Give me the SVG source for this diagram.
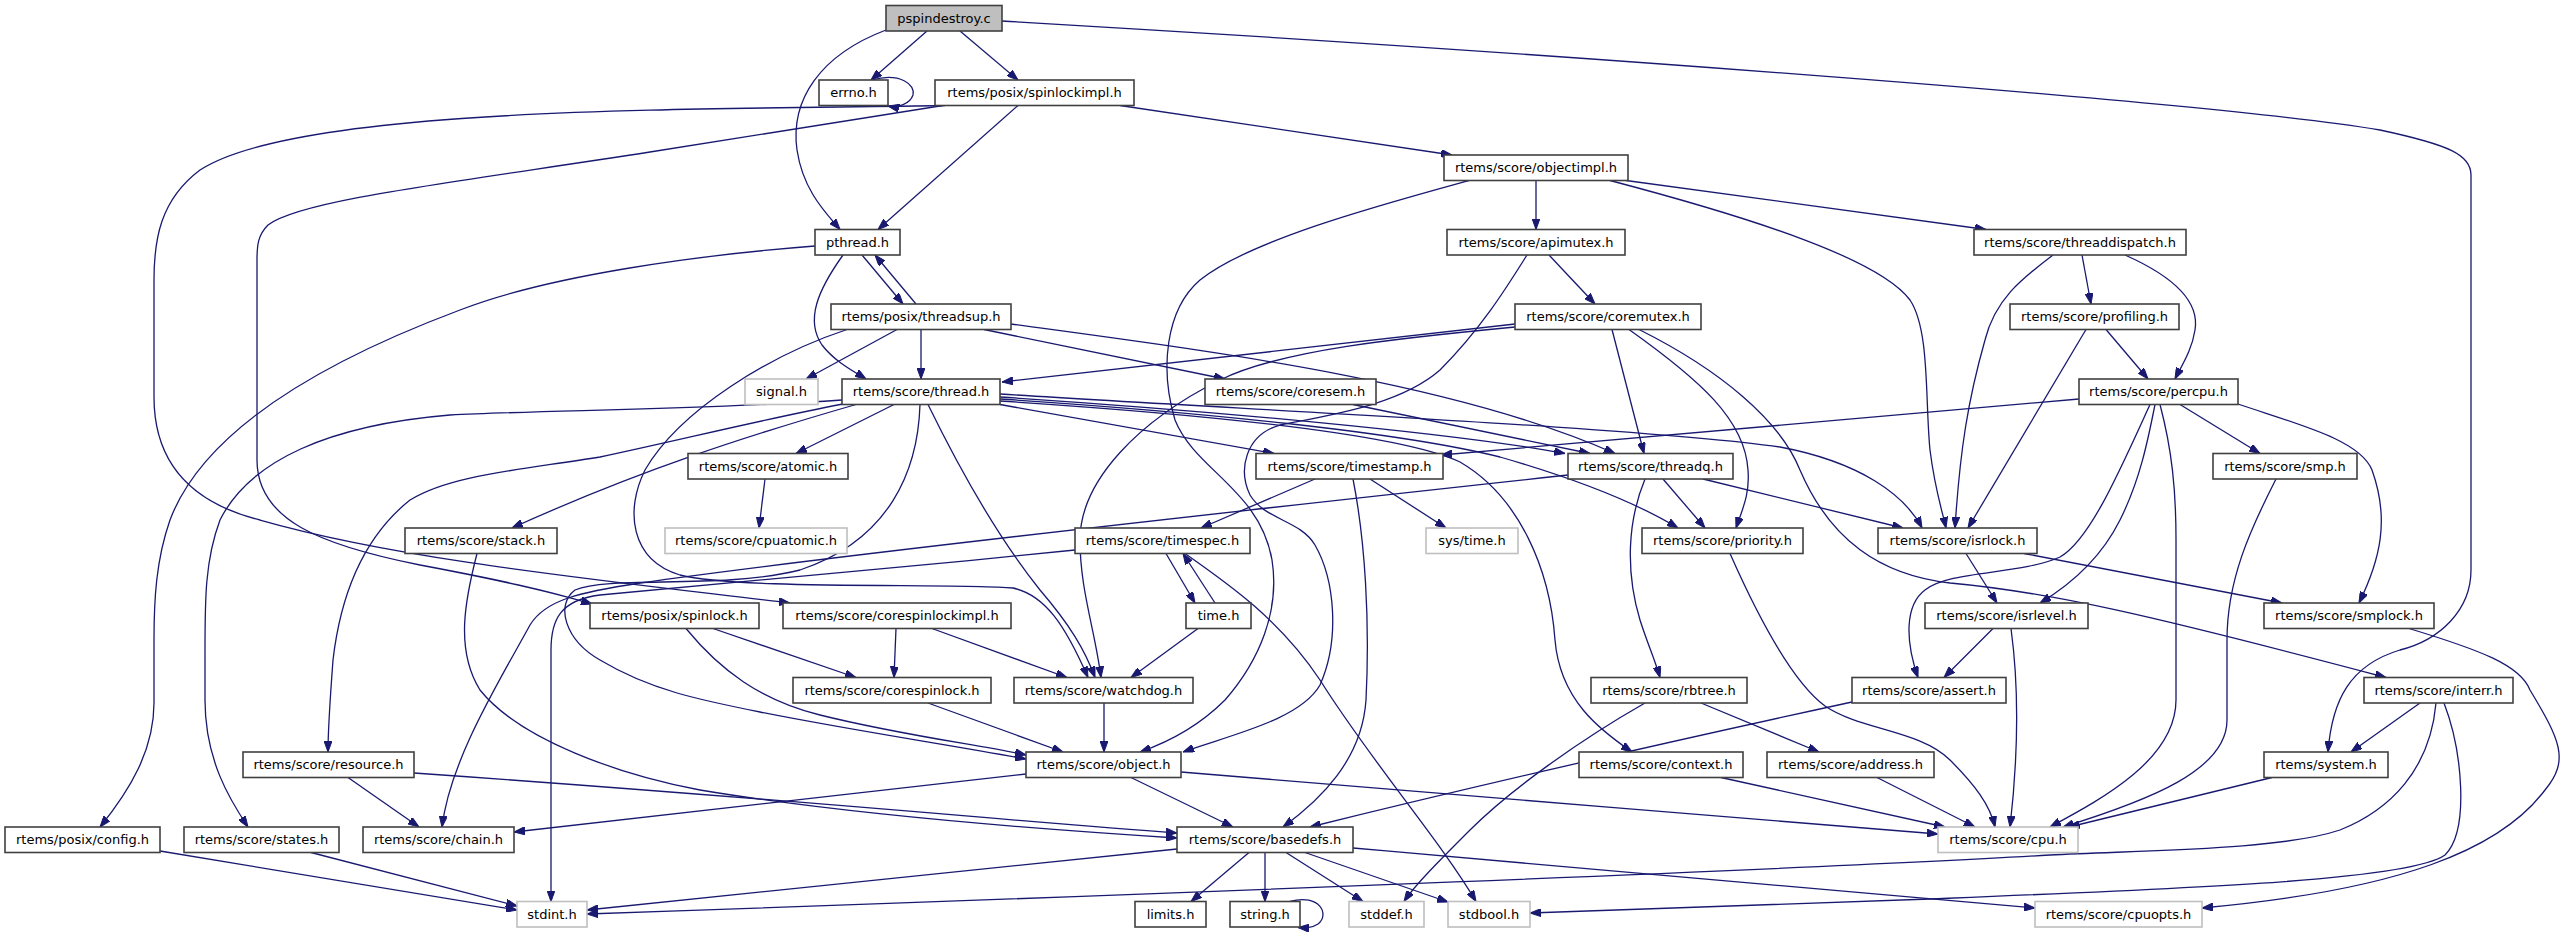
<svg xmlns="http://www.w3.org/2000/svg" width="2570" height="934" viewBox="0 0 2570 934">
<style>
.n rect{fill:#fff;stroke:#404040;stroke-width:1.6}
.g rect{fill:#fff;stroke:#bfbfbf;stroke-width:1.6}
.r rect{fill:#bfbfbf;stroke:#404040;stroke-width:1.6}
text{font-family:"DejaVu Sans",sans-serif;font-size:13px;fill:#000;text-anchor:middle}
#edges path{fill:none;stroke:#191970;stroke-width:1.3;marker-end:url(#a)}
</style>
<defs>
<marker id="a" markerWidth="11" markerHeight="8" refX="11" refY="4" orient="auto" markerUnits="userSpaceOnUse"><path d="M0,0 L11,4 L0,8 z" fill="#191970" stroke="#191970" stroke-width="1"/></marker>
</defs>
<rect width="2570" height="934" fill="#fff"/>
<g id="edges">
<path d="M927,31 L871,80"/>
<path d="M960,31 L1018,80"/>
<path d="M886,30 C820,55 790,100 797,150 C803,190 825,212 840,229.5"/>
<path d="M1002,21 C1500,50 2200,100 2380,130 C2450,145 2471,155 2471,175 L2471,570 C2471,610 2440,640 2400,650 C2350,665 2332,700 2328,752"/>
<path d="M872,80 C900,72 916,85 913,95 C910,104 898,108 888,106"/>
<path d="M1018,105.5 L878,229.5"/>
<path d="M1120,105.5 L1452,155"/>
<path d="M945,105.5 C700,110 300,105 200,170 C160,200 154,240 154,280 L154,397 C154,470 200,505 260,520 C400,560 600,580 790,603"/>
<path d="M943,105.5 L650,152 C450,183 300,200 268,225 C258,235 257,245 257,260 L257,460 C257,520 320,545 420,565 C500,580 545,590 592,604"/>
<path d="M862,255 L903,304"/>
<path d="M916,304 L875,255"/>
<path d="M815,246 C700,255 550,275 460,310 C300,370 200,440 170,520 C156,560 154,600 154,640 L154,703 C154,750 130,790 100,827"/>
<path d="M843,255 C818,290 805,320 822,345 C835,362 855,372 866,379"/>
<path d="M897,329.5 L806,379"/>
<path d="M921,329.5 L921,379"/>
<path d="M984,329.5 L1225,379"/>
<path d="M1011,324 C1200,350 1450,380 1615,453.5"/>
<path d="M847,329.5 C770,355 680,410 645,470 C625,510 630,560 680,575 C740,590 950,583 1013,588 C1045,595 1065,625 1088,677.5"/>
<path d="M1515,324 L1002,382"/>
<path d="M1515,327 C1400,338 1280,350 1220,380 C1140,420 1080,480 1080,540 C1080,590 1095,630 1101,677.5"/>
<path d="M928,404.5 C960,470 1000,540 1040,590 C1070,625 1085,650 1095,677.5"/>
<path d="M1549,255 L1595,304"/>
<path d="M1527,255 C1505,290 1480,330 1440,370 C1400,405 1330,415 1280,425 C1245,435 1238,470 1250,495 C1265,520 1300,520 1315,545 C1335,580 1340,640 1320,685 C1300,720 1230,735 1183,752"/>
<path d="M1536,180.5 L1536,229.5"/>
<path d="M1626,180.5 L1986,229.5"/>
<path d="M1610,180.5 C1760,220 1880,260 1910,300 C1930,330 1925,400 1930,450 C1935,490 1942,510 1946,528"/>
<path d="M1469,180.5 C1380,205 1250,240 1200,280 C1165,310 1160,370 1175,420 C1195,470 1260,490 1272,560 C1280,610 1260,660 1225,700 C1195,730 1160,745 1140,752"/>
<path d="M2082,255 L2091,304"/>
<path d="M2125,255 C2170,275 2200,300 2195,330 C2192,350 2182,365 2175,379"/>
<path d="M2053,255 C2020,280 1995,300 1985,340 C1968,400 1960,450 1955,528"/>
<path d="M2106,329.5 L2148,379"/>
<path d="M2086,329.5 L1968,528"/>
<path d="M894,404.5 L796,453.5"/>
<path d="M856,404.5 C750,435 640,470 512,528"/>
<path d="M843,404 C760,420 680,440 600,457 C520,470 450,475 410,500 C360,540 340,600 333,660 C330,700 328,730 328,752"/>
<path d="M842,400 C700,410 550,410 450,415 C330,425 250,460 220,520 C205,560 205,600 205,650 L205,700 C205,760 230,800 248,827"/>
<path d="M1568,475 C1200,515 800,560 640,583 C580,592 545,600 530,625 C500,680 450,760 442,827"/>
<path d="M1000,404.5 L1274,453.5"/>
<path d="M1000,397 C1200,410 1450,432 1565,453.5"/>
<path d="M1000,394 C1250,410 1650,428 1780,447 C1860,462 1905,495 1922,528"/>
<path d="M1000,399 C1200,412 1400,432 1500,457 C1580,480 1640,505 1678,528"/>
<path d="M1000,401 C1200,414 1400,434 1460,462 C1520,497 1550,570 1555,640 C1560,700 1600,730 1632,752"/>
<path d="M1353,404.5 L1590,453.5"/>
<path d="M1612,329.5 L1644,453.5"/>
<path d="M1629,329.5 C1700,380 1745,420 1748,470 C1750,495 1742,510 1736,528"/>
<path d="M1639,329.5 C1720,370 1780,420 1800,470 C1830,540 1880,575 1950,583 C2050,592 2150,615 2386,677.5"/>
<path d="M1315,479 L1201,528"/>
<path d="M1370,479 L1446,528"/>
<path d="M1353,479 C1365,540 1370,620 1366,700 C1362,760 1320,800 1283,827"/>
<path d="M2079,399 L1441,455"/>
<path d="M1663,479 L1705,528"/>
<path d="M1703,479 L1903,528"/>
<path d="M1645,479 C1628,520 1625,570 1640,620 C1648,645 1655,660 1660,677.5"/>
<path d="M2180,404.5 L2260,453.5"/>
<path d="M2238,404 C2300,425 2360,440 2372,470 C2390,520 2380,560 2359,603"/>
<path d="M2155,404.5 C2148,440 2140,480 2120,520 C2100,560 2070,585 2040,603"/>
<path d="M2150,404.5 C2120,470 2090,540 2060,557 C2020,575 1950,570 1925,590 C1905,605 1905,640 1918,677.5"/>
<path d="M2160,404.5 C2172,450 2176,490 2176,540 L2176,700 C2176,760 2100,800 2050,827"/>
<path d="M1966,553.5 L1997,603"/>
<path d="M2024,553.5 L2282,603"/>
<path d="M2276,479 C2250,530 2227,580 2227,640 L2227,720 C2227,770 2150,800 2063,827"/>
<path d="M2409,628.5 C2480,650 2520,665 2530,690 C2560,740 2570,760 2545,790 C2500,850 2400,890 2202,908"/>
<path d="M1993,628.5 L1944,677.5"/>
<path d="M2011,628.5 C2018,680 2020,740 2010,827"/>
<path d="M2420,703 L2351,752"/>
<path d="M2436,703 C2430,770 2390,810 2340,830 C2280,850 2150,850 2050,855 C1800,870 1000,900 587,914"/>
<path d="M2444,703 C2462,750 2470,830 2445,855 C2410,880 2200,888 1930,899 C1750,906 1620,910 1530,913"/>
<path d="M2272,777.5 L2069,827"/>
<path d="M1701,703 L1819,752"/>
<path d="M1645,703 C1580,740 1510,790 1470,830 C1440,860 1415,885 1404,901.5"/>
<path d="M1877,777.5 L1975,827"/>
<path d="M1721,777.5 L1945,827"/>
<path d="M1730,553.5 C1755,610 1790,680 1825,706 C1860,730 1920,730 1950,760 C1975,785 1990,805 1995,827"/>
<path d="M1181,772 C1400,790 1700,815 1938,834"/>
<path d="M1026,774 L514,832"/>
<path d="M1131,777.5 L1233,827"/>
<path d="M1104,703 L1104,752"/>
<path d="M928,703 L1063,752"/>
<path d="M686,628.5 C720,670 760,700 820,715 C900,735 980,745 1026,755"/>
<path d="M920,404.5 C918,470 890,540 800,570 C720,590 610,575 575,590 C555,605 565,640 600,660 C650,690 700,700 760,712 C850,730 950,745 1026,759"/>
<path d="M896,628.5 L894,677.5"/>
<path d="M932,628.5 L1067,677.5"/>
<path d="M713,628.5 L856,677.5"/>
<path d="M1198,628.5 L1131,677.5"/>
<path d="M1215,603 L1183,553.5"/>
<path d="M1166,553.5 L1195,603"/>
<path d="M1075,550 C900,568 700,585 600,595 C560,600 551,620 551,650 L551,901.5"/>
<path d="M1185,553.5 C1230,585 1280,620 1320,680 C1370,760 1440,840 1476,901.5"/>
<path d="M765,479 L759,528"/>
<path d="M348,777.5 L419,827"/>
<path d="M414,773 C800,800 1000,820 1177,833"/>
<path d="M477,553.5 C465,600 455,650 480,690 C520,740 620,775 700,790 C850,815 1050,830 1177,838"/>
<path d="M1852,702 C1700,735 1500,780 1310,827"/>
<path d="M160,851 L517,910"/>
<path d="M311,852.5 L517,906"/>
<path d="M1177,849 L587,910"/>
<path d="M1249,852.5 L1191,901.5"/>
<path d="M1265,852.5 L1265,901.5"/>
<path d="M1290,901.5 C1320,893 1330,915 1318,924 C1312,928 1306,928 1298,927.5"/>
<path d="M1286,852.5 L1363,901.5"/>
<path d="M1305,852.5 L1448,902"/>
<path d="M1353,848 C1600,870 1850,893 2035,908"/>
</g>
<g id="pspindestroy" class="r"><rect x="886" y="5.5" width="116" height="25.5"/><text x="944" y="22.5">pspindestroy.c</text></g>
<g id="errno" class="n"><rect x="819" y="80" width="69" height="25.5"/><text x="853.5" y="97">errno.h</text></g>
<g id="spinlockimpl" class="n"><rect x="935" y="80" width="199" height="25.5"/><text x="1034.5" y="97">rtems/posix/spinlockimpl.h</text></g>
<g id="objectimpl" class="n"><rect x="1444" y="155" width="184" height="25.5"/><text x="1536" y="172">rtems/score/objectimpl.h</text></g>
<g id="pthread" class="n"><rect x="815" y="229.5" width="85" height="25.5"/><text x="857.5" y="246.5">pthread.h</text></g>
<g id="apimutex" class="n"><rect x="1447" y="229.5" width="178" height="25.5"/><text x="1536" y="246.5">rtems/score/apimutex.h</text></g>
<g id="threaddispatch" class="n"><rect x="1974" y="229.5" width="212" height="25.5"/><text x="2080" y="246.5">rtems/score/threaddispatch.h</text></g>
<g id="threadsup" class="n"><rect x="831" y="304" width="180" height="25.5"/><text x="921" y="321">rtems/posix/threadsup.h</text></g>
<g id="coremutex" class="n"><rect x="1515" y="304" width="186" height="25.5"/><text x="1608" y="321">rtems/score/coremutex.h</text></g>
<g id="profiling" class="n"><rect x="2010" y="304" width="169" height="25.5"/><text x="2094.5" y="321">rtems/score/profiling.h</text></g>
<g id="signal" class="g"><rect x="745" y="379" width="73" height="25.5"/><text x="781.5" y="396">signal.h</text></g>
<g id="thread" class="n"><rect x="842" y="379" width="158" height="25.5"/><text x="921" y="396">rtems/score/thread.h</text></g>
<g id="coresem" class="n"><rect x="1205" y="379" width="171" height="25.5"/><text x="1290.5" y="396">rtems/score/coresem.h</text></g>
<g id="percpu" class="n"><rect x="2079" y="379" width="159" height="25.5"/><text x="2158.5" y="396">rtems/score/percpu.h</text></g>
<g id="atomic" class="n"><rect x="688" y="453.5" width="160" height="25.5"/><text x="768" y="470.5">rtems/score/atomic.h</text></g>
<g id="timestamp" class="n"><rect x="1256" y="453.5" width="187" height="25.5"/><text x="1349.5" y="470.5">rtems/score/timestamp.h</text></g>
<g id="threadq" class="n"><rect x="1568" y="453.5" width="165" height="25.5"/><text x="1650.5" y="470.5">rtems/score/threadq.h</text></g>
<g id="smp" class="n"><rect x="2213" y="453.5" width="144" height="25.5"/><text x="2285" y="470.5">rtems/score/smp.h</text></g>
<g id="stack" class="n"><rect x="405" y="528" width="152" height="25.5"/><text x="481" y="545">rtems/score/stack.h</text></g>
<g id="cpuatomic" class="g"><rect x="665" y="528" width="182" height="25.5"/><text x="756" y="545">rtems/score/cpuatomic.h</text></g>
<g id="timespec" class="n"><rect x="1075" y="528" width="175" height="25.5"/><text x="1162.5" y="545">rtems/score/timespec.h</text></g>
<g id="systime" class="g"><rect x="1426" y="528" width="92" height="25.5"/><text x="1472" y="545">sys/time.h</text></g>
<g id="priority" class="n"><rect x="1642" y="528" width="161" height="25.5"/><text x="1722.5" y="545">rtems/score/priority.h</text></g>
<g id="isrlock" class="n"><rect x="1878" y="528" width="159" height="25.5"/><text x="1957.5" y="545">rtems/score/isrlock.h</text></g>
<g id="posixspinlock" class="n"><rect x="590" y="603" width="169" height="25.5"/><text x="674.5" y="620">rtems/posix/spinlock.h</text></g>
<g id="corespinlockimpl" class="n"><rect x="783" y="603" width="228" height="25.5"/><text x="897" y="620">rtems/score/corespinlockimpl.h</text></g>
<g id="time" class="n"><rect x="1186" y="603" width="65" height="25.5"/><text x="1218.5" y="620">time.h</text></g>
<g id="isrlevel" class="n"><rect x="1925" y="603" width="163" height="25.5"/><text x="2006.5" y="620">rtems/score/isrlevel.h</text></g>
<g id="smplock" class="n"><rect x="2264" y="603" width="170" height="25.5"/><text x="2349" y="620">rtems/score/smplock.h</text></g>
<g id="corespinlock" class="n"><rect x="793" y="677.5" width="198" height="25.5"/><text x="892" y="694.5">rtems/score/corespinlock.h</text></g>
<g id="watchdog" class="n"><rect x="1014" y="677.5" width="179" height="25.5"/><text x="1103.5" y="694.5">rtems/score/watchdog.h</text></g>
<g id="rbtree" class="n"><rect x="1591" y="677.5" width="156" height="25.5"/><text x="1669" y="694.5">rtems/score/rbtree.h</text></g>
<g id="assert" class="n"><rect x="1852" y="677.5" width="154" height="25.5"/><text x="1929" y="694.5">rtems/score/assert.h</text></g>
<g id="interr" class="n"><rect x="2364" y="677.5" width="149" height="25.5"/><text x="2438.5" y="694.5">rtems/score/interr.h</text></g>
<g id="resource" class="n"><rect x="243" y="752" width="171" height="25.5"/><text x="328.5" y="769">rtems/score/resource.h</text></g>
<g id="object" class="n"><rect x="1026" y="752" width="155" height="25.5"/><text x="1103.5" y="769">rtems/score/object.h</text></g>
<g id="context" class="n"><rect x="1579" y="752" width="164" height="25.5"/><text x="1661" y="769">rtems/score/context.h</text></g>
<g id="address" class="n"><rect x="1767" y="752" width="167" height="25.5"/><text x="1850.5" y="769">rtems/score/address.h</text></g>
<g id="system" class="n"><rect x="2264" y="752" width="124" height="25.5"/><text x="2326" y="769">rtems/system.h</text></g>
<g id="config" class="n"><rect x="5" y="827" width="155" height="25.5"/><text x="82.5" y="844">rtems/posix/config.h</text></g>
<g id="states" class="n"><rect x="184" y="827" width="155" height="25.5"/><text x="261.5" y="844">rtems/score/states.h</text></g>
<g id="chain" class="n"><rect x="363" y="827" width="151" height="25.5"/><text x="438.5" y="844">rtems/score/chain.h</text></g>
<g id="basedefs" class="n"><rect x="1177" y="827" width="176" height="25.5"/><text x="1265" y="844">rtems/score/basedefs.h</text></g>
<g id="cpu" class="g"><rect x="1938" y="827" width="140" height="25.5"/><text x="2008" y="844">rtems/score/cpu.h</text></g>
<g id="stdint" class="g"><rect x="517" y="901.5" width="70" height="25.5"/><text x="552" y="918.5">stdint.h</text></g>
<g id="limits" class="n"><rect x="1135" y="901.5" width="71" height="25.5"/><text x="1170.5" y="918.5">limits.h</text></g>
<g id="string" class="n"><rect x="1230" y="901.5" width="70" height="25.5"/><text x="1265" y="918.5">string.h</text></g>
<g id="stddef" class="g"><rect x="1349" y="901.5" width="75" height="25.5"/><text x="1386.5" y="918.5">stddef.h</text></g>
<g id="stdbool" class="g"><rect x="1448" y="901.5" width="82" height="25.5"/><text x="1489" y="918.5">stdbool.h</text></g>
<g id="cpuopts" class="g"><rect x="2035" y="901.5" width="167" height="25.5"/><text x="2118.5" y="918.5">rtems/score/cpuopts.h</text></g>
</svg>
